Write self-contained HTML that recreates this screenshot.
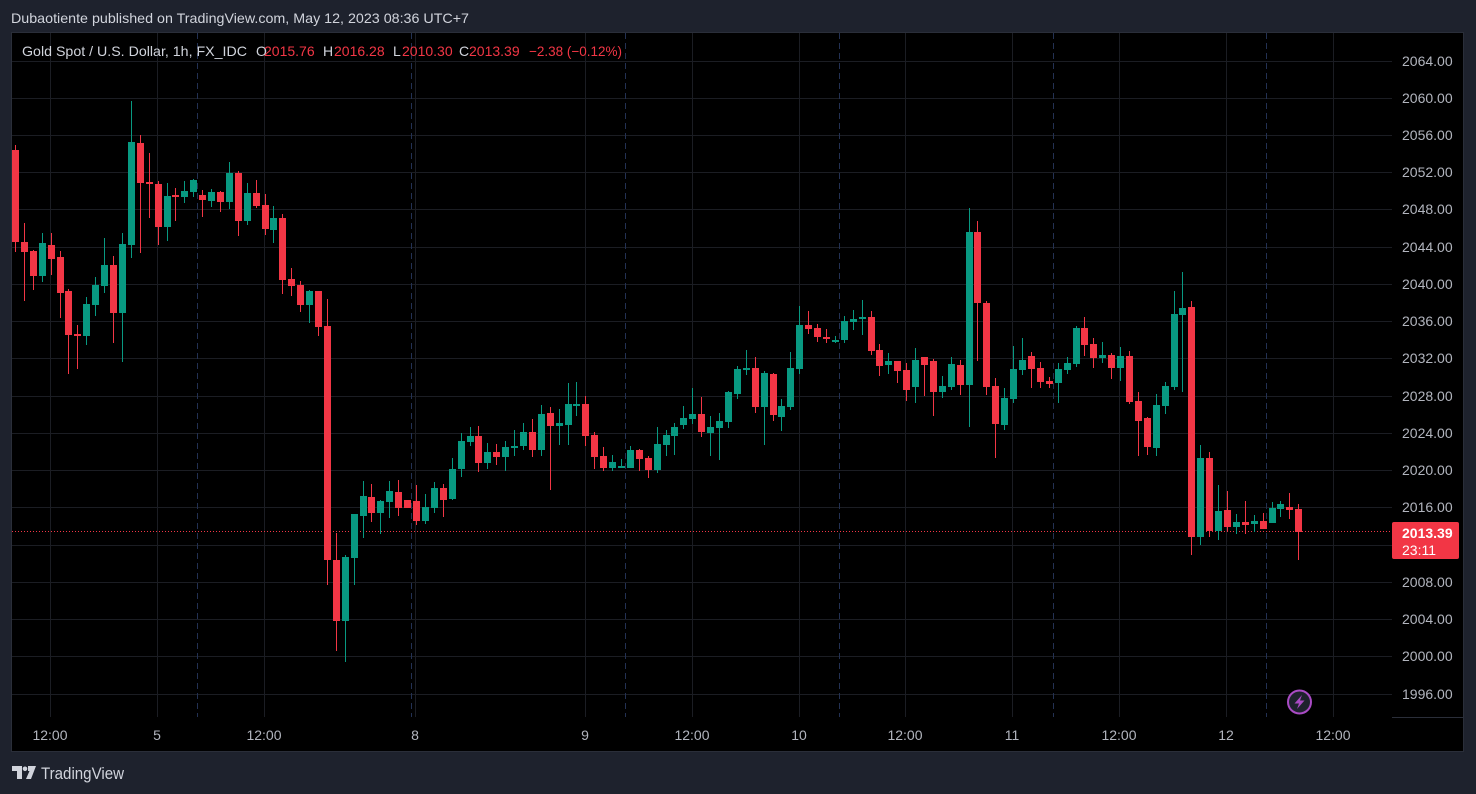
<!DOCTYPE html>
<html><head><meta charset="utf-8"><style>
html,body{margin:0;padding:0;background:#1e222d;width:1476px;height:794px;overflow:hidden}
svg{display:block}
text{font-family:"Liberation Sans",sans-serif}
</style></head><body>
<svg width="1476" height="794" viewBox="0 0 1476 794" xmlns="http://www.w3.org/2000/svg">
<rect x="0" y="0" width="1476" height="794" fill="#1e222d"/>
<text x="11" y="23" font-size="14" fill="#d1d4dc" textLength="458" lengthAdjust="spacingAndGlyphs">Dubaotiente published on TradingView.com, May 12, 2023 08:36 UTC+7</text>
<rect x="11.5" y="32.5" width="1452" height="719" fill="#000" stroke="#2a2e39" stroke-width="1"/>
<!-- horizontal grid -->
<g stroke="#1b1d23" stroke-width="1">
<path d="M12 61.5H1392M12 98.5H1392M12 135.5H1392M12 172.5H1392M12 209.5H1392M12 247.5H1392M12 284.5H1392M12 321.5H1392M12 358.5H1392M12 396.5H1392M12 433.5H1392M12 470.5H1392M12 507.5H1392M12 545.5H1392M12 582.5H1392M12 619.5H1392M12 656.5H1392M12 694.5H1392"/>
<path d="M50.5 33V717M157.5 33V717M264.5 33V717M415.5 33V717M585.5 33V717M692.5 33V717M799.5 33V717M905.5 33V717M1012.5 33V717M1119.5 33V717M1226.5 33V717M1333.5 33V717"/>
</g>
<g stroke="#233153" stroke-width="1" stroke-dasharray="6 4">
<path d="M197.5 33V717M411.5 33V717M625.5 33V717M839.5 33V717M1053.5 33V717M1266.5 33V717"/>
</g>
<path d="M1392 717.5H1463" stroke="#2a2e39" stroke-width="1"/>
<!-- legend -->
<g font-size="14">
<text x="22" y="56" fill="#d1d4dc" textLength="225" lengthAdjust="spacingAndGlyphs">Gold Spot / U.S. Dollar, 1h, FX_IDC</text>
<text x="256" y="56" fill="#d1d4dc">O</text><text x="264" y="56" fill="#f23645">2015.76</text>
<text x="323" y="56" fill="#d1d4dc">H</text><text x="334" y="56" fill="#f23645">2016.28</text>
<text x="393" y="56" fill="#d1d4dc">L</text><text x="402" y="56" fill="#f23645">2010.30</text>
<text x="459" y="56" fill="#d1d4dc">C</text><text x="469" y="56" fill="#f23645">2013.39</text>
<text x="529" y="56" fill="#f23645" textLength="93" lengthAdjust="spacingAndGlyphs">−2.38 (−0.12%)</text>
</g>
<!-- current price line -->
<path d="M12 531.5H1392" stroke="#f23645" stroke-width="1" stroke-dasharray="1 2"/>
<!-- red candles -->
<g stroke="#f23645" stroke-width="1" fill="none">
<path d="M15.5 145V252M24.5 223V301M33.5 250V290M51.5 233V275M60.5 251V318M68.5 289V374M77.5 325V369M113.5 256V343M140.5 135V253M149.5 153V218M158.5 181V245M175.5 188V221M202.5 190V217M220.5 191V212M238.5 171V236M256.5 180V208M265.5 194V235M282.5 214V294M291.5 268V296M300.5 281V312M318.5 291V336M327.5 299V585M336.5 533V651M371.5 484V522M398.5 480V516M407.5 500V508M416.5 485V525M443.5 484V517M478.5 426V472M496.5 444V465M532.5 419V457M550.5 407V490M585.5 396V446M594.5 432V469M603.5 447V471M639.5 449V471M648.5 456V478M701.5 397V437M755.5 357V413M773.5 373V421M808.5 311V334M817.5 324V342M826.5 329V343M871.5 311V355M879.5 344V376M897.5 361V383M906.5 363V401M924.5 357V396M933.5 359V416M960.5 360V395M977.5 221V361M986.5 301V395M995.5 378V458M1031.5 352V388M1040.5 362V388M1049.5 377V388M1084.5 317V356M1093.5 338V368M1111.5 353V379M1129.5 351V404M1138.5 392V456M1147.5 417V455M1191.5 301V555M1209.5 452V537M1227.5 491V532M1245.5 501V534M1263.5 513V529M1289.5 493V519M1298.5 504V560"/>
</g>
<g fill="#f23645">
<rect x="12" y="150" width="7" height="92"/><rect x="21" y="242" width="7" height="10"/><rect x="30" y="251" width="7" height="25"/><rect x="48" y="245" width="7" height="14"/><rect x="57" y="257" width="7" height="36"/><rect x="65" y="291" width="7" height="44"/><rect x="74" y="334" width="7" height="2"/><rect x="110" y="265" width="7" height="48"/><rect x="137" y="143" width="7" height="40"/><rect x="146" y="182" width="7" height="2"/><rect x="155" y="184" width="7" height="43"/><rect x="172" y="195" width="7" height="2"/><rect x="199" y="195" width="7" height="5"/><rect x="217" y="192" width="7" height="10"/><rect x="235" y="173" width="7" height="48"/><rect x="253" y="193" width="7" height="13"/><rect x="262" y="205" width="7" height="24"/><rect x="279" y="218" width="7" height="62"/><rect x="288" y="279" width="7" height="7"/><rect x="297" y="285" width="7" height="20"/><rect x="315" y="291" width="7" height="36"/><rect x="324" y="326" width="7" height="234"/><rect x="333" y="560" width="7" height="61"/><rect x="368" y="497" width="7" height="16"/><rect x="395" y="492" width="7" height="16"/><rect x="404" y="500" width="7" height="8"/><rect x="413" y="501" width="7" height="20"/><rect x="440" y="488" width="7" height="12"/><rect x="475" y="436" width="7" height="27"/><rect x="493" y="452" width="7" height="5"/><rect x="529" y="432" width="7" height="18"/><rect x="547" y="413" width="7" height="13"/><rect x="582" y="404" width="7" height="32"/><rect x="591" y="435" width="7" height="22"/><rect x="600" y="456" width="7" height="12"/><rect x="636" y="450" width="7" height="9"/><rect x="645" y="458" width="7" height="12"/><rect x="698" y="414" width="7" height="18"/><rect x="752" y="368" width="7" height="39"/><rect x="770" y="374" width="7" height="41"/><rect x="805" y="325" width="7" height="4"/><rect x="814" y="328" width="7" height="9"/><rect x="823" y="337" width="7" height="2"/><rect x="868" y="317" width="7" height="34"/><rect x="876" y="350" width="7" height="16"/><rect x="894" y="361" width="7" height="10"/><rect x="903" y="370" width="7" height="20"/><rect x="921" y="357" width="7" height="8"/><rect x="930" y="361" width="7" height="31"/><rect x="957" y="365" width="7" height="20"/><rect x="974" y="232" width="7" height="71"/><rect x="983" y="303" width="7" height="84"/><rect x="992" y="386" width="7" height="38"/><rect x="1028" y="356" width="7" height="13"/><rect x="1037" y="368" width="7" height="14"/><rect x="1046" y="381" width="7" height="3"/><rect x="1081" y="328" width="7" height="17"/><rect x="1090" y="344" width="7" height="14"/><rect x="1108" y="355" width="7" height="13"/><rect x="1126" y="356" width="7" height="46"/><rect x="1135" y="401" width="7" height="20"/><rect x="1144" y="418" width="7" height="29"/><rect x="1188" y="307" width="7" height="230"/><rect x="1206" y="458" width="7" height="73"/><rect x="1224" y="510" width="7" height="17"/><rect x="1242" y="522" width="7" height="3"/><rect x="1260" y="521" width="7" height="8"/><rect x="1286" y="507" width="7" height="3"/><rect x="1295" y="509" width="7" height="23"/>
</g>
<!-- green candles -->
<g stroke="#089981" stroke-width="1" fill="none">
<path d="M42.5 233V282M86.5 297V345M95.5 277V316M104.5 238V293M122.5 233V362M131.5 101V258M167.5 183V241M184.5 181V203M193.5 179V197M211.5 189V207M229.5 162V209M247.5 183V225M273.5 206V243M309.5 290V323M345.5 555V662M354.5 514V585M363.5 481V538M380.5 500V534M389.5 481V518M425.5 494V524M434.5 482V513M452.5 458V500M461.5 433V477M470.5 427V446M487.5 443V469M505.5 441V471M514.5 430V456M523.5 423V450M541.5 405V456M559.5 409V445M568.5 383V445M576.5 382V416M612.5 455V471M621.5 459V468M630.5 446V468M657.5 427V473M666.5 430V456M674.5 423V455M683.5 406V429M692.5 388V424M710.5 416V456M719.5 413V460M728.5 391V428M737.5 366V399M746.5 350V375M764.5 371V445M781.5 399V431M790.5 352V410M799.5 306V374M835.5 336V343M844.5 316V343M853.5 310V330M862.5 300V335M888.5 353V374M915.5 348V403M942.5 376V398M951.5 357V390M969.5 208V427M1004.5 388V430M1013.5 346V403M1022.5 338V375M1058.5 363V403M1067.5 357V374M1076.5 326V367M1102.5 342V363M1120.5 347V381M1156.5 394V456M1165.5 382V414M1174.5 291V390M1182.5 272V392M1200.5 445V545M1218.5 485V540M1236.5 514V534M1254.5 515V532M1272.5 502V523M1280.5 501V517"/>
</g>
<g fill="#089981">
<rect x="39" y="243" width="7" height="33"/><rect x="83" y="304" width="7" height="32"/><rect x="92" y="285" width="7" height="20"/><rect x="101" y="265" width="7" height="21"/><rect x="119" y="244" width="7" height="69"/><rect x="128" y="142" width="7" height="103"/><rect x="164" y="196" width="7" height="31"/><rect x="181" y="191" width="7" height="6"/><rect x="190" y="180" width="7" height="12"/><rect x="208" y="192" width="7" height="9"/><rect x="226" y="173" width="7" height="29"/><rect x="244" y="193" width="7" height="28"/><rect x="270" y="218" width="7" height="12"/><rect x="306" y="291" width="7" height="14"/><rect x="342" y="557" width="7" height="64"/><rect x="351" y="514" width="7" height="44"/><rect x="360" y="496" width="7" height="20"/><rect x="377" y="501" width="7" height="12"/><rect x="386" y="491" width="7" height="11"/><rect x="422" y="507" width="7" height="14"/><rect x="431" y="488" width="7" height="20"/><rect x="449" y="469" width="7" height="30"/><rect x="458" y="441" width="7" height="28"/><rect x="467" y="436" width="7" height="6"/><rect x="484" y="452" width="7" height="11"/><rect x="502" y="447" width="7" height="10"/><rect x="511" y="446" width="7" height="2"/><rect x="520" y="432" width="7" height="14"/><rect x="538" y="414" width="7" height="36"/><rect x="556" y="423" width="7" height="3"/><rect x="565" y="404" width="7" height="21"/><rect x="573" y="404" width="7" height="2"/><rect x="609" y="462" width="7" height="6"/><rect x="618" y="466" width="7" height="2"/><rect x="627" y="450" width="7" height="18"/><rect x="654" y="444" width="7" height="26"/><rect x="663" y="435" width="7" height="10"/><rect x="671" y="427" width="7" height="9"/><rect x="680" y="418" width="7" height="7"/><rect x="689" y="414" width="7" height="5"/><rect x="707" y="427" width="7" height="6"/><rect x="716" y="421" width="7" height="7"/><rect x="725" y="392" width="7" height="30"/><rect x="734" y="369" width="7" height="25"/><rect x="743" y="368" width="7" height="2"/><rect x="761" y="373" width="7" height="34"/><rect x="778" y="406" width="7" height="11"/><rect x="787" y="368" width="7" height="39"/><rect x="796" y="325" width="7" height="44"/><rect x="832" y="340" width="7" height="2"/><rect x="841" y="321" width="7" height="19"/><rect x="850" y="319" width="7" height="3"/><rect x="859" y="317" width="7" height="2"/><rect x="885" y="361" width="7" height="4"/><rect x="912" y="360" width="7" height="27"/><rect x="939" y="386" width="7" height="6"/><rect x="948" y="364" width="7" height="23"/><rect x="966" y="232" width="7" height="153"/><rect x="1001" y="398" width="7" height="27"/><rect x="1010" y="369" width="7" height="30"/><rect x="1019" y="360" width="7" height="10"/><rect x="1055" y="369" width="7" height="14"/><rect x="1064" y="363" width="7" height="7"/><rect x="1073" y="328" width="7" height="36"/><rect x="1099" y="355" width="7" height="3"/><rect x="1117" y="356" width="7" height="12"/><rect x="1153" y="405" width="7" height="43"/><rect x="1162" y="386" width="7" height="20"/><rect x="1171" y="314" width="7" height="73"/><rect x="1179" y="308" width="7" height="7"/><rect x="1197" y="458" width="7" height="79"/><rect x="1215" y="511" width="7" height="20"/><rect x="1233" y="522" width="7" height="5"/><rect x="1251" y="521" width="7" height="3"/><rect x="1269" y="508" width="7" height="15"/><rect x="1277" y="504" width="7" height="5"/>
</g>
<!-- price axis -->
<g font-size="14" fill="#b2b5be">
<text x="1402" y="66">2064.00</text><text x="1402" y="103">2060.00</text><text x="1402" y="140">2056.00</text><text x="1402" y="177">2052.00</text><text x="1402" y="214">2048.00</text><text x="1402" y="252">2044.00</text><text x="1402" y="289">2040.00</text><text x="1402" y="326">2036.00</text><text x="1402" y="363">2032.00</text><text x="1402" y="401">2028.00</text><text x="1402" y="438">2024.00</text><text x="1402" y="475">2020.00</text><text x="1402" y="512">2016.00</text><text x="1402" y="587">2008.00</text><text x="1402" y="624">2004.00</text><text x="1402" y="661">2000.00</text><text x="1402" y="699">1996.00</text>
</g>
<rect x="1392" y="522" width="67" height="37" rx="2" fill="#f23645"/>
<text x="1402" y="538" font-size="14" font-weight="bold" fill="#ffffff">2013.39</text>
<text x="1402" y="555" font-size="14" fill="#ffffff">23:11</text>
<!-- time axis -->
<g font-size="14" fill="#b2b5be" text-anchor="middle">
<text x="50" y="740">12:00</text><text x="157" y="740">5</text><text x="264" y="740">12:00</text><text x="415" y="740">8</text><text x="585" y="740">9</text><text x="692" y="740">12:00</text><text x="799" y="740">10</text><text x="905" y="740">12:00</text><text x="1012" y="740">11</text><text x="1119" y="740">12:00</text><text x="1226" y="740">12</text><text x="1333" y="740">12:00</text>
</g>
<!-- lightning icon -->
<circle cx="1299.5" cy="702" r="11.5" fill="#1e222d" stroke="#a94bc4" stroke-width="2"/>
<polygon points="1302,695 1294.5,703.5 1299,703.5 1297,709 1304.5,700.5 1300,700.5" fill="#a94bc4"/>
<!-- footer logo -->
<g fill="#d1d4dc">
<polygon points="12,766 22,766 22,779 17,779 17,771 12,771"/>
<circle cx="25" cy="768.8" r="2.3"/>
<polygon points="28,766 36,766 31,779 26,779 29.5,771 28,771"/>
</g>
<text x="41" y="779" font-size="17" fill="#d1d4dc" textLength="83" lengthAdjust="spacingAndGlyphs">TradingView</text>
</svg>
</body></html>
